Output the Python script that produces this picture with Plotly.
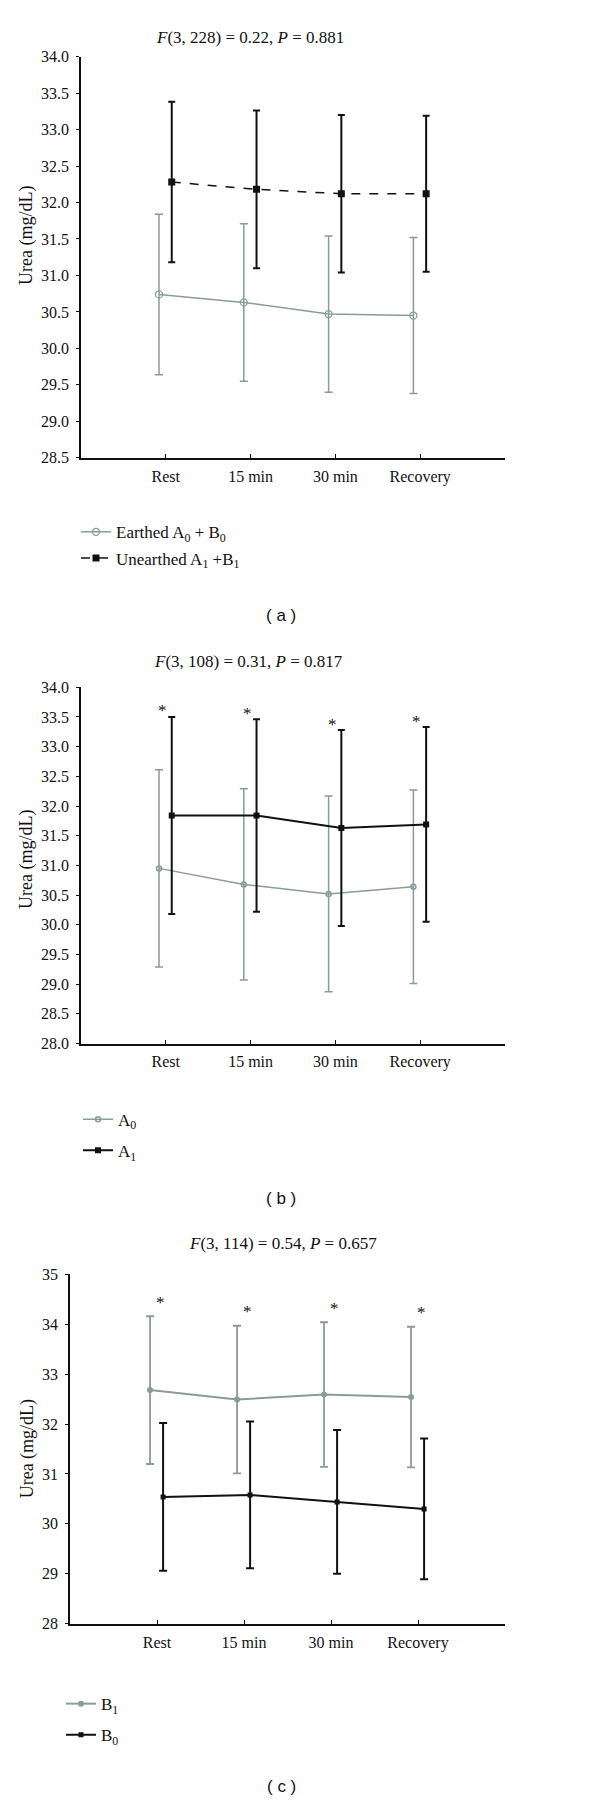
import plotly.graph_objects as go

# ---------------- data ----------------
categories = ["Rest", "15 min", "30 min", "Recovery"]
positions = [1, 2, 3, 4]

# panel (a)
earthed_mean = [30.74, 30.63, 30.47, 30.45]
earthed_err = [1.10, 1.08, 1.07, 1.07]
unearthed_mean = [32.28, 32.18, 32.12, 32.12]
unearthed_err = [1.10, 1.08, 1.08, 1.07]

# panel (b)
a0_mean = [30.95, 30.68, 30.52, 30.64]
a0_err = [1.66, 1.61, 1.65, 1.63]
a1_mean = [31.84, 31.84, 31.63, 31.69]
a1_err = [1.66, 1.62, 1.65, 1.64]

# panel (c)
b1_mean = [32.68, 32.49, 32.59, 32.54]
b1_err = [1.48, 1.48, 1.45, 1.41]
b0_mean = [30.54, 30.58, 30.44, 30.30]
b0_err = [1.48, 1.47, 1.44, 1.41]

titles = [
    "<i>F</i>(3, 228) = 0.22, <i>P</i> = 0.881",
    "<i>F</i>(3, 108) = 0.31, <i>P</i> = 0.817",
    "<i>F</i>(3, 114) = 0.54, <i>P</i> = 0.657",
]
panel_labels = ["( a )", "( b )", "( c )"]
y_title = "Urea (mg/dL)"

# ---------------- style ----------------
MARGIN = 8          # default page body margin around the plot div
W, H = 600 - MARGIN, 1810 - MARGIN
GREY = "#8a9b9b"
BLACK = "#111111"
SERIF = "Liberation Serif"
SANS = "Liberation Sans"


def px_y(p):
    return 1 - (p - MARGIN) / H


def px_x(p):
    return (p - MARGIN) / W


fig = go.Figure()


def add_series(mean, err, xoff, name, color, symbol, msize, lwidth, dash,
               ewidth, ecap, xa, ya, legend, mline=None):
    fig.add_trace(go.Scatter(
        x=[p + xoff for p in positions], y=mean,
        mode="lines+markers", name=name,
        line=dict(color=color, width=lwidth, dash=dash),
        marker=dict(color=color, symbol=symbol, size=msize,
                    line=dict(color=color, width=mline if mline else 0)),
        error_y=dict(type="data", array=err, visible=True, color=color,
                     thickness=ewidth, width=ecap),
        xaxis=xa, yaxis=ya, legend=legend, legendgroup=name,
        showlegend=True,
    ))


GOFF, BOFF = -0.08, 0.07

# (a)
add_series(earthed_mean, earthed_err, GOFF, "Earthed A<sub>0</sub> + B<sub>0</sub>",
           GREY, "circle-open", 7, 1.5, "solid", 1.5, 4, "x", "y", "legend", mline=1.3)
add_series(unearthed_mean, unearthed_err, BOFF, "Unearthed A<sub>1</sub> +B<sub>1</sub>",
           BLACK, "square", 7, 1.5, "dash", 2, 3.5, "x", "y", "legend")
# (b)
add_series(a0_mean, a0_err, GOFF, "A<sub>0</sub>",
           GREY, "circle-open", 5, 1.5, "solid", 1.5, 4, "x2", "y2", "legend2", mline=1.5)
add_series(a1_mean, a1_err, BOFF, "A<sub>1</sub>",
           BLACK, "square", 6, 2, "solid", 2, 3.5, "x2", "y2", "legend2")
# (c)
add_series(b1_mean, b1_err, GOFF, "B<sub>1</sub>",
           GREY, "circle", 6, 2, "solid", 1.8, 4, "x3", "y3", "legend3")
add_series(b0_mean, b0_err, BOFF, "B<sub>0</sub>",
           BLACK, "square", 5, 2, "solid", 2, 4, "x3", "y3", "legend3")

# panel geometry in page pixels: (x_left, x_right, y_top, y_bottom)
geo = [
    (81, 505, 49, 454),
    (81, 505, 685.7, 1045.3),
    (70, 505, 1278.3, 1631),
]
yranges = [[28.5, 34.0], [28.0, 34.0], [28, 35]]
ydticks = [0.5, 0.5, 1]
yfmt = [".1f", ".1f", "d"]

axis_common = dict(showline=True, linecolor=BLACK, linewidth=1.5,
                   showgrid=False, zeroline=False,
                   tickfont=dict(family=SERIF, size=16, color=BLACK),
                   tickcolor=BLACK)

for i, (xl, xr, yt, yb) in enumerate(geo):
    sfx = "" if i == 0 else str(i + 1)
    fig.layout["xaxis" + sfx] = dict(
        axis_common, domain=[px_x(xl), px_x(xr)], range=[0, 5],
        tickvals=positions, ticktext=categories, ticks="inside", ticklen=4,
        anchor="y" + sfx, ticklabelstandoff=3)
    fig.layout["yaxis" + sfx] = dict(
        axis_common, domain=[px_y(yb), px_y(yt)], range=yranges[i],
        dtick=ydticks[i], tick0=0, tickformat=yfmt[i], ticks="outside", ticklen=3,
        anchor="x" + sfx, ticklabelstandoff=4)

annotations = []
title_pos = [(250, 30), (248, 660), (283, 1247)]
label_pos = [(281, 613), (281, 1202), (281, 1795)]
ytitle_pos = [(27, 230), (27, 860), (27, 1455)]
for i in range(3):
    annotations.append(dict(text=titles[i], x=px_x(title_pos[i][0]), y=px_y(title_pos[i][1]),
                            xref="paper", yref="paper", showarrow=False,
                            xanchor="center", yanchor="middle",
                            font=dict(family=SERIF, size=17, color=BLACK)))
    annotations.append(dict(text=panel_labels[i], x=px_x(label_pos[i][0]), y=px_y(label_pos[i][1]),
                            xref="paper", yref="paper", showarrow=False,
                            xanchor="center", yanchor="middle",
                            font=dict(family=SANS, size=17, color=BLACK)))
    annotations.append(dict(text=y_title, x=px_x(ytitle_pos[i][0]), y=px_y(ytitle_pos[i][1]),
                            xref="paper", yref="paper", showarrow=False, textangle=-90,
                            xanchor="center", yanchor="middle",
                            font=dict(family=SERIF, size=18, color=BLACK)))

# significance asterisks
for p, m, e in zip(positions, a1_mean, a1_err):
    annotations.append(dict(text="*", x=p - 0.04, y=m + e, xref="x2", yref="y2",
                            showarrow=False, xanchor="center", yanchor="middle", yshift=6,
                            font=dict(family=SERIF, size=17, color=BLACK)))
for p, m, e in zip(positions, b1_mean, b1_err):
    annotations.append(dict(text="*", x=p + 0.045, y=m + e, xref="x3", yref="y3",
                            showarrow=False, xanchor="center", yanchor="middle", yshift=14,
                            font=dict(family=SERIF, size=17, color=BLACK)))

legend_common = dict(font=dict(family=SERIF, size=17, color=BLACK),
                     bgcolor="rgba(0,0,0,0)", xanchor="left", yanchor="top",
                     traceorder="grouped", itemwidth=30)

fig.update_layout(
    width=W, height=H, margin=dict(l=0, r=0, t=0, b=0),
    paper_bgcolor="white", plot_bgcolor="white",
    annotations=annotations,
    legend=dict(legend_common, x=px_x(76), y=px_y(511), tracegroupgap=1),
    legend2=dict(legend_common, x=px_x(78), y=px_y(1104), tracegroupgap=6),
    legend3=dict(legend_common, x=px_x(61), y=px_y(1694), tracegroupgap=6),
)

fig.write_html("out.html")
